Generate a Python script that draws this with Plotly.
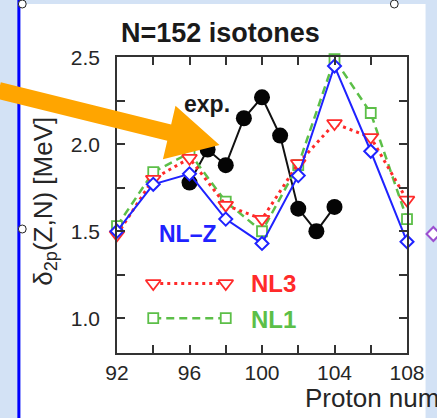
import numpy as np
import plotly.graph_objects as go

# ---- data -------------------------------------------------------------
Z_THEORY = [92, 94, 96, 98, 100, 102, 104, 106, 108]
NLZ = [1.50, 1.77, 1.83, 1.57, 1.43, 1.82, 2.45, 1.96, 1.44]
NL3 = [1.48, 1.80, 1.92, 1.65, 1.57, 1.89, 2.12, 2.04, 1.68]
NL1 = [1.53, 1.84, 1.95, 1.67, 1.50, 1.88, 2.49, 2.18, 1.57]

Z_EXP = [96, 97, 98, 99, 100, 101, 102, 103, 104]
EXP = [1.78, 1.97, 1.88, 2.15, 2.27, 2.05, 1.63, 1.50, 1.64]

X_TICKS = [92, 94, 96, 98, 100, 102, 104, 106, 108]
X_TICKTEXT = ["92", "", "96", "", "100", "", "104", "", "108"]
Y_TICKS = [1.0, 1.25, 1.5, 1.75, 2.0, 2.25, 2.5]
Y_TICKTEXT = ["1.0", "", "1.5", "", "2.0", "", "2.5"]

# key samples drawn inside the frame (x span, y level)
KEY_X = [94, 98]
KEY_Y_NL3 = 1.2
KEY_Y_NL1 = 1.0

# ---- styling ----------------------------------------------------------
BLUE = "#1f22ff"
RED = "#ff2a2a"
GREEN = "#5cbf48"
ORANGE = "#ffa500"
AXIS = "#333333"
FONT = "Liberation Sans, Arial, Helvetica, sans-serif"

W, H = 437, 418
L, R, T, B = 117, 414, 57, 353  # plot frame in page pixels


def fx(px):
    return (px - L) / (R - L)


def fy(py):
    return (B - py) / (B - T)


fig = go.Figure()

# experimental values
fig.add_trace(go.Scatter(
    x=Z_EXP, y=EXP, mode="lines+markers", cliponaxis=False,
    line=dict(color="#111111", width=2),
    marker=dict(symbol="circle", size=16, color="#050505"),
))
# NL1
fig.add_trace(go.Scatter(
    x=Z_THEORY, y=NL1, mode="lines+markers", cliponaxis=False,
    line=dict(color=GREEN, width=2.5, dash="8px,5px"),
    marker=dict(symbol="square", size=10, color="white",
                line=dict(color=GREEN, width=1.8)),
))
# NL3
fig.add_trace(go.Scatter(
    x=Z_THEORY, y=NL3, mode="lines+markers", cliponaxis=False,
    line=dict(color=RED, width=3, dash="3px,4px"),
    marker=dict(symbol="triangle-down", size=13, color="white",
                line=dict(color=RED, width=1.8)),
))
# NL-Z
fig.add_trace(go.Scatter(
    x=Z_THEORY, y=NLZ, mode="lines+markers", cliponaxis=False,
    line=dict(color=BLUE, width=2),
    marker=dict(symbol="diamond", size=10, color="white",
                line=dict(color=BLUE, width=2)),
))

# key samples
fig.add_trace(go.Scatter(
    x=KEY_X, y=[KEY_Y_NL3] * 2, mode="lines+markers",
    line=dict(color=RED, width=3, dash="3px,4px"),
    marker=dict(symbol="triangle-down", size=13, color="white",
                line=dict(color=RED, width=1.8)),
))
fig.add_trace(go.Scatter(
    x=KEY_X, y=[KEY_Y_NL1] * 2, mode="lines+markers",
    line=dict(color=GREEN, width=2.5, dash="8px,5px"),
    marker=dict(symbol="square", size=10, color="white",
                line=dict(color=GREEN, width=1.8)),
))

# ---- slide decorations -----------------------------------------------
shapes = []
# white card behind the chart
shapes.append(dict(type="rect", xref="paper", yref="paper", layer="below",
                   x0=fx(18), x1=fx(433), y0=fy(H + 5), y1=fy(4),
                   fillcolor="white", line=dict(width=0)))
# blue border on the left of the card
shapes.append(dict(type="line", xref="paper", yref="paper", layer="below",
                   x0=fx(16.5), x1=fx(16.5), y0=fy(-2), y1=fy(H + 2),
                   line=dict(color="#0000ff", width=3)))
# partial diamond peeking in at the right edge
cx, cy, s = 441, 234, 7
shapes.append(dict(type="path", xref="paper", yref="paper", layer="above",
                   path=(f"M {fx(cx - s)},{fy(cy)} L {fx(cx)},{fy(cy - s)} "
                         f"L {fx(cx + s)},{fy(cy)} L {fx(cx)},{fy(cy + s)} Z"),
                   fillcolor="white", line=dict(color="#9b4fd0", width=2)))

# orange arrow pointing at the experimental curve
tail = np.array([-4.0, 90.5])
tip = np.array([222.0, 145.0])
d = (tip - tail) / np.linalg.norm(tip - tail)
n = np.array([-d[1], d[0]])
head_len, shaft_hw, head_hw = 53.0, 8.4, 27.5
base = tip - head_len * d
pts = [tail - shaft_hw * n, base - shaft_hw * n, base - head_hw * n, tip,
       base + head_hw * n, base + shaft_hw * n, tail + shaft_hw * n]
path = "M " + " L ".join(f"{fx(p[0])},{fy(p[1])}" for p in pts) + " Z"
shapes.append(dict(type="path", xref="paper", yref="paper", layer="above",
                   path=path, fillcolor=ORANGE, line=dict(width=0)))

# selection handles
for hx, hy in [(20, 4), (20, 229), (401, 4)]:
    shapes.append(dict(type="circle", xref="paper", yref="paper", layer="above",
                       x0=fx(hx - 4), x1=fx(hx + 4), y0=fy(hy + 4), y1=fy(hy - 4),
                       fillcolor="white", line=dict(color="#222222", width=1)))

# ---- text -------------------------------------------------------------
ann = []


def text(s, px, py, size, color="#1a1a1a", bold=False, xanchor="center",
         angle=0):
    ann.append(dict(text=f"<b>{s}</b>" if bold else s, xref="paper",
                    yref="paper", x=fx(px), y=fy(py), xanchor=xanchor,
                    yanchor="middle", showarrow=False, textangle=angle,
                    font=dict(family=FONT, size=size, color=color)))


text("N=152 isotones", 223, 33, 27, bold=True)
text("exp.", 209, 104, 23, bold=True)
text("NL–Z", 190, 234, 23, color=BLUE, bold=True)
text("NL3", 252, 283, 24, color=RED, bold=True, xanchor="left")
text("NL1", 252, 319, 24, color=GREEN, bold=True, xanchor="left")
text("δ<sub>2p</sub>(Z,N) [MeV]", 42, 201, 26, color="#262626", angle=-90)
text("Proton number", 308, 398, 26, color="#262626", xanchor="left")

axis_common = dict(showgrid=False, zeroline=False, showline=True,
                   linecolor=AXIS, linewidth=1.5, mirror="ticks",
                   ticks="inside", ticklen=8, tickwidth=1.5, tickcolor=AXIS,
                   tickfont=dict(family=FONT, size=21, color="#262626"))

fig.update_layout(
    width=W, height=H, autosize=False,
    margin=dict(l=L, r=W - R, t=T, b=H - B, pad=0),
    paper_bgcolor="#d3e2f5", plot_bgcolor="rgba(0,0,0,0)",
    showlegend=False,
    shapes=shapes, annotations=ann,
    xaxis=dict(range=[92, 108], tickvals=X_TICKS, ticktext=X_TICKTEXT,
               ticklabelstandoff=0, **axis_common),
    yaxis=dict(range=[0.8, 2.502], tickvals=Y_TICKS, ticktext=Y_TICKTEXT,
               ticklabelstandoff=11, **axis_common),
)

fig.write_html("out.html")
